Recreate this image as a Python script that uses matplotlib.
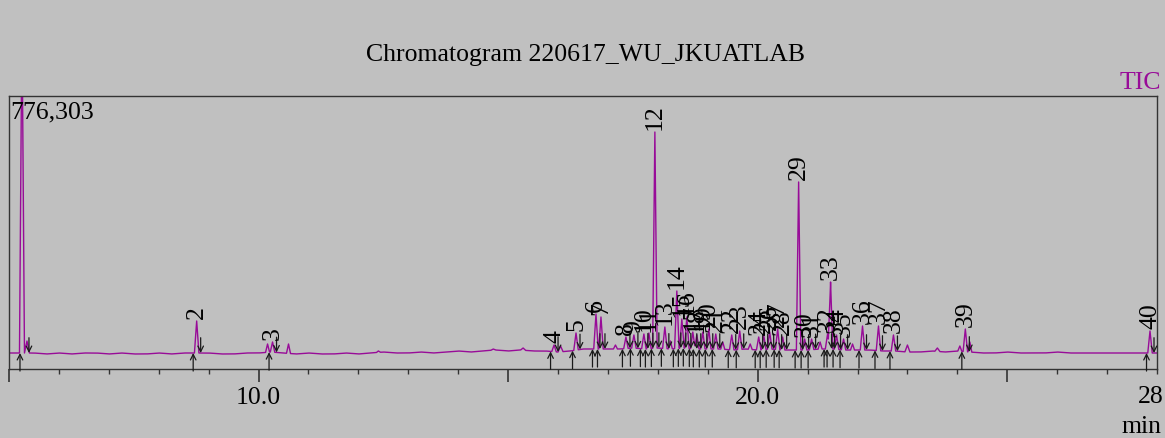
import numpy as np
import matplotlib
matplotlib.use("Agg")
import matplotlib.pyplot as plt
from matplotlib.ticker import MultipleLocator

plt.rcParams['font.family'] = ['Liberation Serif', 'DejaVu Serif']

# ---------------- data ----------------
title = "Chromatogram 220617_WU_JKUATLAB"
trace_name = "TIC"
scale_label = "776,303"
y_max = 776303

# baseline level (counts) every 0.25 min from 5.0 to 28.0
base_t = list(np.arange(5.0, 28.01, 0.25))
base_i = [45500, 45500, 45500, 42700, 45500, 42700, 45500, 45500, 42700, 45500, 42700, 42700,
          45500, 42700, 45500, 45500, 45500, 42700, 42700, 45500, 45500, 48300, 45500, 42700,
          45500, 42700, 42700, 45500, 42700, 45500, 48300, 45500, 45500, 48300, 45500, 48300,
          51200, 48300, 51200, 54000, 51200, 54000, 51200, 51200, 48300, 51200, 56900, 56900,
          56900, 56900, 59700, 56900, 59700, 56900, 59700, 56900, 56900, 56900, 54000, 56900,
          54000, 56900, 54000, 54000, 54000, 56900, 56900, 54000, 54000, 54000, 51200, 51200,
          48300, 48300, 51200, 48300, 51200, 48300, 45500, 45500, 48300, 45500, 45500, 45500,
          48300, 45500, 45500, 45500, 45500, 45500, 45500, 45500, 45500]

# labelled peaks: id, retention time (min), apex intensity (counts)
peak_id = [2, 3, 4, 5, 6, 7, 8, 9, 10, 11, 12, 13, 14, 15, 16, 17, 18, 19, 20, 21,
           22, 23, 24, 25, 26, 27, 28, 29, 30, 31, 32, 33, 34, 35, 36, 37, 38, 39, 40]
peak_rt = [8.76, 10.28, 15.92, 16.36, 16.76, 16.86, 17.36, 17.52, 17.72, 17.82, 17.94,
           18.14, 18.38, 18.48, 18.58, 18.70, 18.78, 18.90, 19.02, 19.16, 19.48, 19.64,
           20.02, 20.12, 20.24, 20.40, 20.50, 20.82, 20.94, 21.08, 21.40, 21.46, 21.58,
           21.72, 22.10, 22.42, 22.72, 24.16, 27.86]
peak_apex = [136500, 76800, 68200, 102400, 156400, 147900, 91000, 96700, 99500, 102400,
             673900, 119400, 221800, 142200, 147900, 105200, 96700, 105200, 113700, 99500,
             96700, 108100, 91000, 96700, 105200, 113700, 91000, 531800, 85300, 85300,
             99500, 247400, 96700, 85300, 122300, 122300, 96700, 113700, 108100]

# unlabelled peaks (solvent + small bumps)
minor_rt = [5.26, 5.36, 10.18, 10.60, 12.40, 14.70, 15.30, 16.05, 17.15, 18.25, 19.30,
            19.85, 21.25, 21.90, 23.00, 23.60, 24.05, 24.25]
minor_apex = [1000000, 79600, 71100, 71100, 51200, 56900, 59700, 65400, 68200, 79600, 76800,
              71100, 76800, 71100, 68200, 59700, 65400, 76800]
minor_w = [0.05, 0.05, 0.04, 0.04, 0.04, 0.05, 0.05, 0.05, 0.04, 0.04, 0.04,
           0.04, 0.04, 0.04, 0.05, 0.05, 0.04, 0.04]

# ---------------- figure ----------------
bg = '#c0c0c0'
purple = '#980b98'
fig = plt.figure(figsize=(11.65, 4.39), dpi=100, facecolor=bg)
ax = fig.add_axes([9 / 1165, 69 / 439, 1148 / 1165, 273 / 439], facecolor=bg)

t = np.linspace(5.0, 28.0, 9201)
sig = np.interp(t, base_t, base_i)
for rt, ap in zip(peak_rt, peak_apex):
    b = np.interp(rt, base_t, base_i)
    sig += (ap - b) * np.clip(1 - np.abs(t - rt) / 0.045, 0, None)
for rt, ap, w in zip(minor_rt, minor_apex, minor_w):
    b = np.interp(rt, base_t, base_i)
    sig += (ap - b) * np.clip(1 - np.abs(t - rt) / w, 0, None)

ax.plot(t, sig, color=purple, lw=1.0)
ax.set_xlim(5.0, 28.0)
ax.set_ylim(0, y_max)
ax.set_yticks([])

# integration markers and peak labels
arrow_kw = dict(arrowstyle='->,head_length=0.4,head_width=0.2', lw=0.9,
                color='#1a1a1a', shrinkA=0, shrinkB=0)
for pid, rt, ap in zip(peak_id, peak_rt, peak_apex):
    ts, te = rt - 0.07, rt + 0.08
    bs = np.interp(ts, base_t, base_i)
    be = np.interp(te, base_t, base_i)
    ax.annotate('', xy=(ts, bs), xytext=(0, -13), textcoords='offset points',
                arrowprops=arrow_kw, annotation_clip=False)
    ax.annotate('', xy=(te, be), xytext=(0, 11), textcoords='offset points',
                arrowprops=arrow_kw, annotation_clip=False)
    ax.annotate(str(pid), xy=(rt, ap), xytext=(0, 2), textcoords='offset points',
                rotation=90, ha='center', va='bottom', fontsize=18.5, color='black')

# solvent peak markers
ax.annotate('', xy=(5.22, 45500), xytext=(0, -13), textcoords='offset points',
            arrowprops=arrow_kw, annotation_clip=False)
ax.annotate('', xy=(5.40, 45500), xytext=(0, 11), textcoords='offset points',
            arrowprops=arrow_kw, annotation_clip=False)

# axis styling
for s in ax.spines.values():
    s.set_color('#333333')
    s.set_linewidth(1.0)
ax.set_xticks([5, 10, 15, 20, 25])
ax.set_xticklabels(['', '10.0', '', '20.0', ''])
ax.xaxis.set_minor_locator(MultipleLocator(1))
ax.tick_params(axis='x', which='major', direction='out', length=9, width=1.2,
               labelsize=18.5, pad=3, color='#333333')
ax.tick_params(axis='x', which='minor', direction='out', length=3.5, width=1.0,
               color='#333333')

fig.text(1151 / 1165, 1 - 397 / 439, '28', ha='center', va='center', fontsize=18.5)
fig.text(1162 / 1165, 1 - 427 / 439, 'min', ha='right', va='center', fontsize=18.5)

fig.text(585 / 1165, 1 - 55 / 439, title, ha='center', va='center', fontsize=18.5)
fig.text(1161 / 1165, 1 - 83 / 439, trace_name, ha='right', va='center', fontsize=18.5,
         color=purple)
ax.text(0.001, 0.985, scale_label, transform=ax.transAxes, ha='left', va='top',
        fontsize=18.5)

fig.savefig('out.png', dpi=100, facecolor=bg)
